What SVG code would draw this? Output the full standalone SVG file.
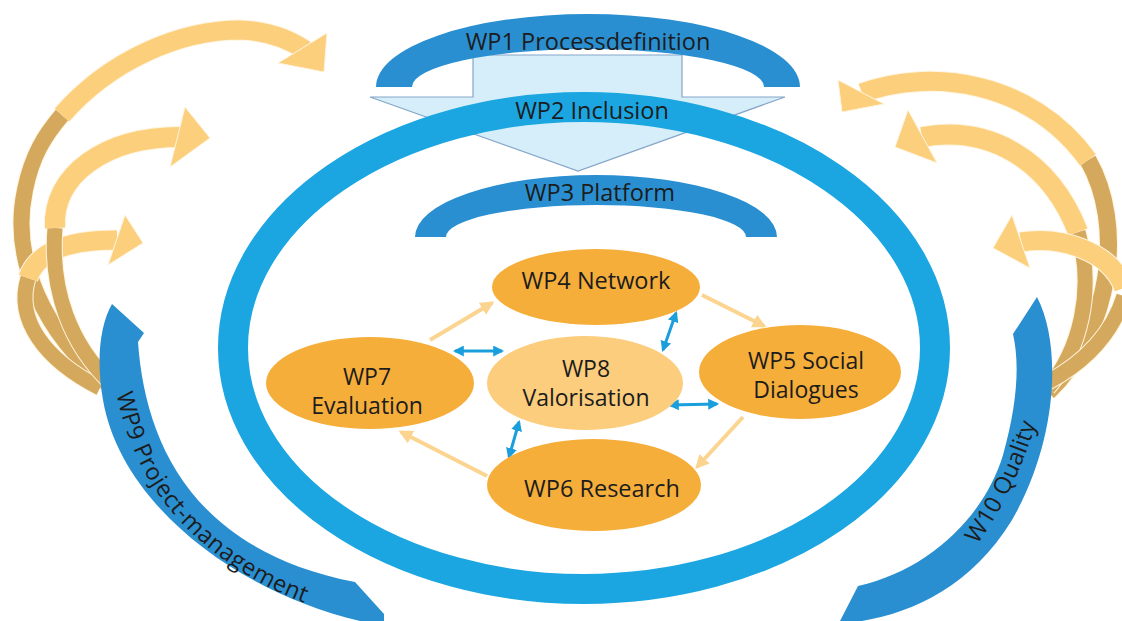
<svg xmlns="http://www.w3.org/2000/svg" width="1122" height="621" viewBox="0 0 1122 621">
  <defs>
    <style>
      .lbl { font-family: "Open Sans", "Noto Sans", "Liberation Sans", sans-serif; font-size: 23.5px; fill: #1c1c1c; text-anchor: middle; }
      .sm { font-size: 23px; }
      .arc-lbl { dominant-baseline: central; }
      .band { fill: #2a8fd1; }
      .ring { fill: none; stroke: #1ba6e1; stroke-width: 30; }
      .node { fill: #f6ae3b; }
      .node-light { fill: #fbcd7c; }
      .rib { fill: none; stroke-linecap: butt; }
      .rib-edge { stroke: #fff4de; }
      .rib-front { stroke: #fbcf7c; }
      .rib-back { stroke: #d4a95d; }
      .head { fill: #fbcf7c; stroke: #fff4de; stroke-width: 1; }
      .flow { fill: none; stroke: #fbd590; stroke-width: 4; }
      .link { fill: none; stroke: #1a9fdc; stroke-width: 3; }
    </style>
    <marker id="flowHead" viewBox="0 0 10 10" refX="8" refY="5" markerWidth="14" markerHeight="14" markerUnits="userSpaceOnUse" orient="auto">
      <path d="M0,0 L10,5 L0,10 Z" fill="#fbd590"/>
    </marker>
    <marker id="linkHead" viewBox="0 0 10 10" refX="8" refY="5" markerWidth="11" markerHeight="11" markerUnits="userSpaceOnUse" orient="auto-start-reverse">
      <path d="M0,0 L10,5 L0,10 Z" fill="#1a9fdc"/>
    </marker>
  </defs>

  <!-- Curved feedback ribbons, left side -->
  <g id="ribbons-left">
    <path class="rib rib-edge" stroke-width="18" d="M108 384 C45 335 10 260 25 190 C32 155 45 135 62 115"/>
    <path class="rib rib-back" stroke-width="16" d="M108 384 C45 335 10 260 25 190 C32 155 45 135 62 115"/>
    <path class="rib rib-edge" stroke-width="21" d="M62 115 C110 60 180 30 240 30 C270 31 290 40 305 50"/>
    <path class="rib rib-front" stroke-width="19" d="M62 115 C110 60 180 30 240 30 C270 31 290 40 305 50"/>
    <polygon class="head" points="327,33 324,72 278,63"/>

    <path class="rib rib-edge" stroke-width="17" d="M100 388 C45 360 15 320 28 278"/>
    <path class="rib rib-back" stroke-width="15" d="M100 388 C45 360 15 320 28 278"/>
    <path class="rib rib-edge" stroke-width="21" d="M28 278 C38 250 70 240 117 240"/>
    <path class="rib rib-front" stroke-width="19" d="M28 278 C38 250 70 240 117 240"/>
    <polygon class="head" points="125,215 143,243 108,265"/>

    <path class="rib rib-edge" stroke-width="17" d="M112 384 C70 345 50 290 55 228"/>
    <path class="rib rib-back" stroke-width="15" d="M112 384 C70 345 50 290 55 228"/>
    <path class="rib rib-edge" stroke-width="22" d="M55 228 C52 175 105 137 180 137"/>
    <path class="rib rib-front" stroke-width="20" d="M55 228 C52 175 105 137 180 137"/>
    <polygon class="head" points="185,107 210,138 170,167"/>
  </g>

  <!-- Curved feedback ribbons, right side -->
  <g id="ribbons-right">
    <path class="rib rib-edge" stroke-width="19" d="M1088 160 C1125 225 1112 330 1048 392"/>
    <path class="rib rib-back" stroke-width="17" d="M1088 160 C1125 225 1112 330 1048 392"/>
    <path class="rib rib-edge" stroke-width="21" d="M862 93 C930 68 1030 80 1088 160"/>
    <path class="rib rib-front" stroke-width="19" d="M862 93 C930 68 1030 80 1088 160"/>
    <polygon class="head" points="838,80 842,112 884,104"/>

    <path class="rib rib-edge" stroke-width="17" d="M1078 232 C1095 290 1080 350 1048 388"/>
    <path class="rib rib-back" stroke-width="15" d="M1078 232 C1095 290 1080 350 1048 388"/>
    <path class="rib rib-edge" stroke-width="22" d="M922 137 C990 125 1050 160 1078 232"/>
    <path class="rib rib-front" stroke-width="20" d="M922 137 C990 125 1050 160 1078 232"/>
    <polygon class="head" points="908,110 895,147 937,163"/>

    <path class="rib rib-edge" stroke-width="17" d="M1124 296 C1112 335 1085 362 1048 382"/>
    <path class="rib rib-back" stroke-width="15" d="M1124 296 C1112 335 1085 362 1048 382"/>
    <path class="rib rib-edge" stroke-width="21" d="M1021 242 C1060 236 1110 250 1124 288"/>
    <path class="rib rib-front" stroke-width="19" d="M1021 242 C1060 236 1110 250 1124 288"/>
    <polygon class="head" points="1012,215 993,248 1030,268"/>
  </g>

  <!-- Downward block arrow from WP1 into the programme -->
  <g id="flow-arrow">
    <polygon points="473,55 682,55 682,97 785,97 578,171 370,97 473,97" fill="#d5eef9" stroke="#86a6c9" stroke-width="1.2"/>
  </g>

  <g id="wp1">
    <path class="band" d="M376 87 A212 73 0 0 1 800 87 L764 87 A176 38 0 0 0 412 87 Z"/>
    <text class="lbl" x="588" y="50">WP1 Processdefinition</text>
  </g>

  <g id="wp2">
    <ellipse class="ring" cx="584" cy="348" rx="351" ry="241"/>
    <text class="lbl" x="592" y="119">WP2 Inclusion</text>
  </g>

  <g id="wp3">
    <path class="band" d="M415 237 A181 62 0 0 1 777 237 L746 237 A150 32 0 0 0 446 237 Z"/>
    <text class="lbl" x="600" y="201">WP3 Platform</text>
  </g>

  <g id="wp9">
    <path class="band" d="M112 304 L144 333 L138 342 C145 440 190 550 355 582 L384 614 L384 621 L360 621 C230 590 120 500 103 400 C96 360 100 325 112 304 Z"/>
    <!-- label runs along the middle of the band -->
    <path id="wp9-path" d="M118 330 C122 440 165 510 240 560 C275 583 310 597 350 608" fill="none"/>
    <text class="lbl arc-lbl" style="text-anchor:start"><textPath href="#wp9-path" startOffset="62">WP9 Project-management</textPath></text>
  </g>

  <g id="w10">
    <path class="band" d="M1037 297 C1062 345 1058 440 1012 520 C972 585 915 612 862 621 L840 621 L858 586 C930 570 985 515 1003 455 C1017 405 1020 365 1013 334 Z"/>
    <path id="w10-path" d="M950 565 Q1010 495 1036 390" fill="none"/>
    <text class="lbl arc-lbl"><textPath href="#w10-path" startOffset="50%">W10 Quality</textPath></text>
  </g>

  <!-- Connectors between the central work packages -->
  <g id="connectors">
    <line class="flow" x1="430" y1="340" x2="492" y2="303" marker-end="url(#flowHead)"/>
    <line class="flow" x1="702" y1="295" x2="764" y2="326" marker-end="url(#flowHead)"/>
    <line class="flow" x1="743" y1="417" x2="697" y2="467" marker-end="url(#flowHead)"/>
    <line class="flow" x1="487" y1="476" x2="401" y2="432" marker-end="url(#flowHead)"/>

    <line class="link" x1="455" y1="351" x2="502" y2="351" marker-start="url(#linkHead)" marker-end="url(#linkHead)"/>
    <line class="link" x1="676" y1="313" x2="663" y2="350" marker-start="url(#linkHead)" marker-end="url(#linkHead)"/>
    <line class="link" x1="670" y1="405" x2="717" y2="404" marker-start="url(#linkHead)" marker-end="url(#linkHead)"/>
    <line class="link" x1="519" y1="422" x2="509" y2="457" marker-start="url(#linkHead)" marker-end="url(#linkHead)"/>
  </g>

  <g id="wp4">
    <ellipse class="node" cx="596" cy="287" rx="104" ry="38"/>
    <text class="lbl" x="596" y="289">WP4 Network</text>
  </g>

  <g id="wp5">
    <ellipse class="node" cx="800" cy="372" rx="101" ry="47"/>
    <text class="lbl sm" x="806" y="369">WP5 Social</text>
    <text class="lbl sm" x="806" y="398">Dialogues</text>
  </g>

  <g id="wp7">
    <ellipse class="node" cx="370" cy="383" rx="104" ry="46"/>
    <text class="lbl sm" x="367" y="385">WP7</text>
    <text class="lbl sm" x="367" y="414">Evaluation</text>
  </g>

  <g id="wp8">
    <ellipse class="node-light" cx="585" cy="383" rx="98" ry="47"/>
    <text class="lbl sm" x="586" y="377">WP8</text>
    <text class="lbl sm" x="586" y="406">Valorisation</text>
  </g>

  <g id="wp6">
    <ellipse class="node" cx="594" cy="485" rx="107" ry="46"/>
    <text class="lbl" x="602" y="497">WP6 Research</text>
  </g>
</svg>
